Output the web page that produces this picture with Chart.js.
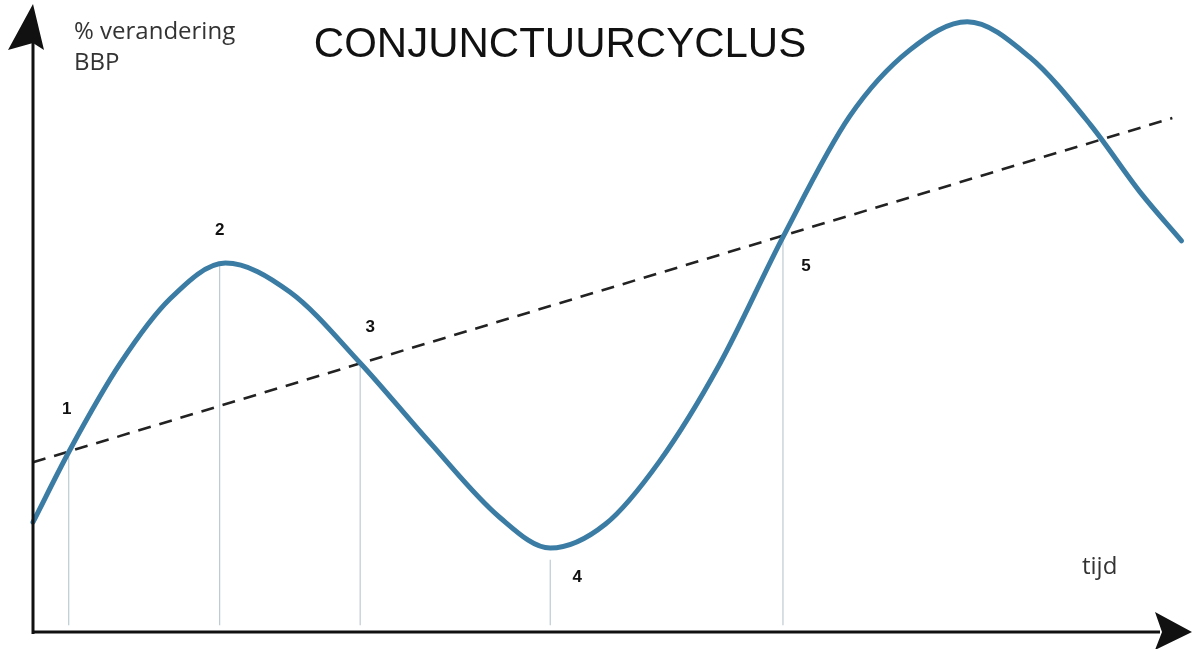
<!DOCTYPE html>
<html>
<head>
<meta charset="utf-8">
<script src="https://cdn.jsdelivr.net/npm/chart.js@4.4.1/dist/chart.umd.min.js"></script>
<style>
  html, body { margin: 0; padding: 0; background: #fff; }
  #wrap { width: 1192px; height: 649px; }
</style>
</head>
<body>
<div id="wrap"><canvas id="cycle"></canvas></div>
<script>
// conjunctuurcyclus: tijd (0-100) tegen % verandering BBP (0-100, schaal zonder getallen)
const cycleTime  = [0, 3.2, 7.6, 11.9, 16.7, 22.3, 28.4, 34.5, 40.5, 44.9, 49.7, 54.4, 59.6, 65.1, 70.9, 76.1, 81.1, 86.5, 91.8, 96.1, 99.7];
const cycleValue = [17.8, 29.5, 43.6, 54.0, 59.8, 55.1, 43.6, 30.6, 18.6, 13.6, 17.5, 27.7, 43.4, 64.0, 83.6, 94.3, 98.9, 93.2, 82.2, 71.3, 63.4];

// trendlijn (gestippeld)
const trendTime  = [0, 98.9];
const trendValue = [27.5, 83.3];

// genummerde punten
const pointLabels = ['1', '2', '3', '4', '5'];
const pointTime   = [3.1, 16.2, 28.4, 44.9, 65.1];
const pointValue  = [29.3, 59.8, 43.6, 13.6, 64.0];
const dropTop     = [29.3, 59.8, 43.6, 11.7, 64.0];   // waar het verticale lijntje begint
const dropBottom  = 1.1;

const title = 'CONJUNCTUURCYCLUS';
const yTitle = ['% verandering', 'BBP'];
const xTitle = 'tijd';

// label offsets in px (dx, dy) vanaf het punt
const labelOffset = [[-2, -42], [0, -33], [10, -36], [27, 29], [23, 29]];

const toXY = (xs, ys) => xs.map((x, i) => ({ x: x, y: ys[i] }));

const datasets = [];
pointTime.forEach((t, i) => {
  datasets.push({
    data: [{ x: t, y: dropBottom }, { x: t, y: dropTop[i] }],
    borderColor: '#bccbd3',
    borderWidth: 1.2,
    pointRadius: 0,
    order: 3
  });
});
datasets.push({
  data: toXY(trendTime, trendValue),
  borderColor: '#222',
  borderWidth: 2.6,
  borderDash: [13, 9],
  pointRadius: 0,
  order: 2
});
datasets.push({
  data: toXY(cycleTime, cycleValue),
  borderColor: '#3b7ca4',
  borderWidth: 5,
  pointRadius: 0,
  cubicInterpolationMode: 'monotone',
  borderCapStyle: 'round',
  order: 1
});

const decor = {
  id: 'decor',
  afterDatasetsDraw(chart) {
    const { ctx, chartArea: a, scales: { x, y } } = chart;
    ctx.save();

    // assen met pijlen
    ctx.strokeStyle = '#111';
    ctx.fillStyle = '#111';
    ctx.lineWidth = 3;
    ctx.beginPath();
    ctx.moveTo(a.left, a.bottom + 2);
    ctx.lineTo(a.left, 40);
    ctx.moveTo(a.left - 1, a.bottom);
    ctx.lineTo(1160, a.bottom);
    ctx.stroke();

    ctx.beginPath();
    ctx.moveTo(a.left, 4);
    ctx.lineTo(a.left - 25, 50);
    ctx.lineTo(a.left, 43);
    ctx.lineTo(a.left + 11, 50);
    ctx.closePath();
    ctx.fill();

    ctx.beginPath();
    ctx.moveTo(1192, a.bottom);
    ctx.lineTo(1155, a.bottom - 20);
    ctx.lineTo(1162, a.bottom);
    ctx.lineTo(1155, a.bottom + 18);
    ctx.closePath();
    ctx.fill();

    // genummerde labels
    ctx.fillStyle = '#111';
    ctx.font = 'bold 17px "Liberation Sans", Arial, sans-serif';
    ctx.textAlign = 'center';
    ctx.textBaseline = 'middle';
    pointLabels.forEach((lab, i) => {
      const px = x.getPixelForValue(pointTime[i]) + labelOffset[i][0];
      const py = y.getPixelForValue(pointValue[i]) + labelOffset[i][1];
      ctx.fillText(lab, px, py);
    });

    // titels
    ctx.font = '42px "Liberation Sans", Arial, sans-serif';
    ctx.fillText(title, 560, 45);

    ctx.fillStyle = '#333';
    ctx.font = '24px "Open Sans", "Noto Sans", sans-serif';
    ctx.textAlign = 'left';
    ctx.fillText(yTitle[0], 74, 32);
    ctx.fillText(yTitle[1], 74, 63);
    ctx.fillText(xTitle, 1082, 567);

    ctx.restore();
  }
};

new Chart(document.getElementById('cycle'), {
  type: 'line',
  data: { datasets: datasets },
  options: {
    responsive: true,
    maintainAspectRatio: false,
    animation: false,
    events: [],
    layout: { padding: { left: 33, right: 7, top: 15, bottom: 17 } },
    datasets: { line: { clip: false } },
    plugins: { legend: { display: false }, tooltip: { enabled: false } },
    scales: {
      x: { type: 'linear', min: 0, max: 100, display: false },
      y: { type: 'linear', min: 0, max: 100, display: false }
    }
  },
  plugins: [decor]
});
</script>
</body>
</html>
